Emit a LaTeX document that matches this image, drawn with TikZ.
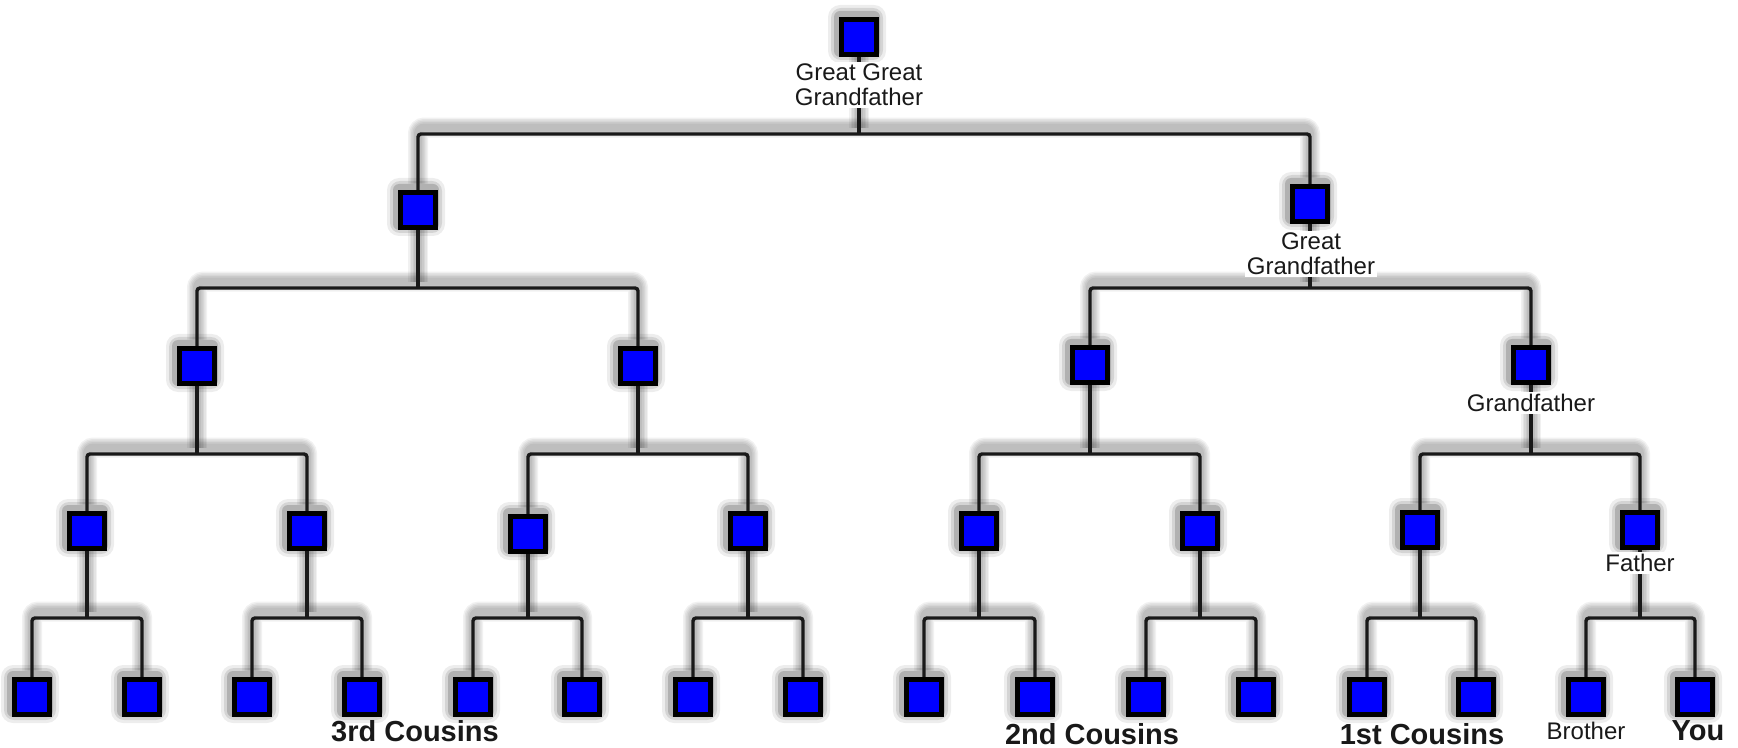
\documentclass[tikz,border=0pt]{standalone}
\usepackage{fontspec}
\setmainfont{Liberation Sans}
\usetikzlibrary{calc}
\pgfdeclarelayer{base}
\pgfdeclarelayer{sh}
\pgfdeclarelayer{bg}
\pgfsetlayers{base,sh,bg,main}
\newcommand\famlink[5]{%
  \draw[#1] (#3.north) |- (#2 |- 0,#5) -| (#4.north);
  \draw[#1] (#2.south) -- (#2 |- 0,#5);
}
\newcommand\alllinks[1]{%
  \famlink{#1}{r}{p1}{p2}{134}
  \famlink{#1}{p1}{q1}{q2}{288}
  \famlink{#1}{p2}{q3}{q4}{288}
  \famlink{#1}{q1}{s1}{s2}{454}
  \famlink{#1}{q2}{s3}{s4}{454}
  \famlink{#1}{q3}{s5}{s6}{454}
  \famlink{#1}{q4}{s7}{s8}{454}
  \famlink{#1}{s1}{t1}{t2}{618}
  \famlink{#1}{s2}{t3}{t4}{618}
  \famlink{#1}{s3}{t5}{t6}{618}
  \famlink{#1}{s4}{t7}{t8}{618}
  \famlink{#1}{s5}{t9}{t10}{618}
  \famlink{#1}{s6}{t11}{t12}{618}
  \famlink{#1}{s7}{t13}{t14}{618}
  \famlink{#1}{s8}{t15}{t16}{618}
}
\begin{document}
\begin{tikzpicture}[x=0.5pt,y=-0.5pt,
  box/.style={rectangle, draw=black, fill=blue, line width=2.5pt, minimum size=17.5pt, inner sep=0pt},
  conn/.style={draw=black!90, line width=1.7pt, rounded corners=1.5pt},
  glow/.style={draw=black, line width=#1, opacity=0.055, rounded corners=3pt},
  lbl/.style={fill=white, inner sep=1pt, font=\fontsize{12}{12.5}\selectfont, align=center, text=black!90},
  blbl/.style={inner sep=0pt, font=\fontsize{14.5}{15}\selectfont\bfseries, text=black!90},
]
\begin{pgfonlayer}{base}
\fill[white] (0,0) rectangle (1738,748);
\end{pgfonlayer}
\useasboundingbox (0,0) rectangle (1738,748);

% boxes
\node[box] (r) at (859,37) {};
\node[box] (p1) at (418,210) {};
\node[box] (p2) at (1310,204) {};
\node[box] (q1) at (197,366) {};
\node[box] (q2) at (638,366) {};
\node[box] (q3) at (1090,365) {};
\node[box] (q4) at (1531,365) {};
\node[box] (s1) at (87,531) {};
\node[box] (s2) at (307,531) {};
\node[box] (s3) at (528,534) {};
\node[box] (s4) at (748,531) {};
\node[box] (s5) at (979,531) {};
\node[box] (s6) at (1200,531) {};
\node[box] (s7) at (1420,530) {};
\node[box] (s8) at (1640,530) {};
\node[box] (t1) at (32,697) {};
\node[box] (t2) at (142,697) {};
\node[box] (t3) at (252,697) {};
\node[box] (t4) at (362,697) {};
\node[box] (t5) at (473,697) {};
\node[box] (t6) at (582,697) {};
\node[box] (t7) at (693,697) {};
\node[box] (t8) at (803,697) {};
\node[box] (t9) at (924,697) {};
\node[box] (t10) at (1035,697) {};
\node[box] (t11) at (1146,697) {};
\node[box] (t12) at (1256,697) {};
\node[box] (t13) at (1367,697) {};
\node[box] (t14) at (1476,697) {};
\node[box] (t15) at (1586,697) {};
\node[box] (t16) at (1695,697) {};

% shadows
\begin{pgfonlayer}{sh}
  \begin{scope}[transform canvas={yshift=3.2pt}]
    \alllinks{glow=10pt}
    \alllinks{glow=8.5pt}
    \alllinks{glow=7pt}
    \alllinks{glow=5.5pt}
    \alllinks{glow=4pt}
  \end{scope}
  \foreach \n in {r,p1,p2,q1,q2,q3,q4,s1,s2,s3,s4,s5,s6,s7,s8,t1,t2,t3,t4,t5,t6,t7,t8,t9,t10,t11,t12,t13,t14,t15,t16}{
    \fill[black,opacity=0.07,rounded corners=6pt] ($(\n)+(-2,-3)$) +(-29,-29) rectangle +(29,29);
    \fill[black,opacity=0.1,rounded corners=5pt] ($(\n)+(-2,-3)$) +(-26,-26) rectangle +(26,26);
    \fill[black,opacity=0.16,rounded corners=3pt] ($(\n)+(-2,-3)$) +(-23,-23) rectangle +(23,23);
  }
\end{pgfonlayer}

% connectors
\begin{pgfonlayer}{bg}
  \alllinks{conn}
\end{pgfonlayer}

% labels
\node[lbl] (lr) at (859,85) {Great Great\\Grandfather};
\node[lbl] (lp2) at (1311,254) {Great\\Grandfather};
\node[lbl] (lq4) at (1531,403) {Grandfather};
\node[lbl] (ls8) at (1640,563) {Father};
\node[lbl, fill=none] (lt15) at (1586,731) {Brother};
\node[blbl] (lt16) at (1698,731) {You};
\node[blbl] (c3) at (415,731) {3rd Cousins};
\node[blbl] (c2) at (1092,734) {2nd Cousins};
\node[blbl] (c1) at (1422,734) {1st Cousins};
\end{tikzpicture}
\end{document}
